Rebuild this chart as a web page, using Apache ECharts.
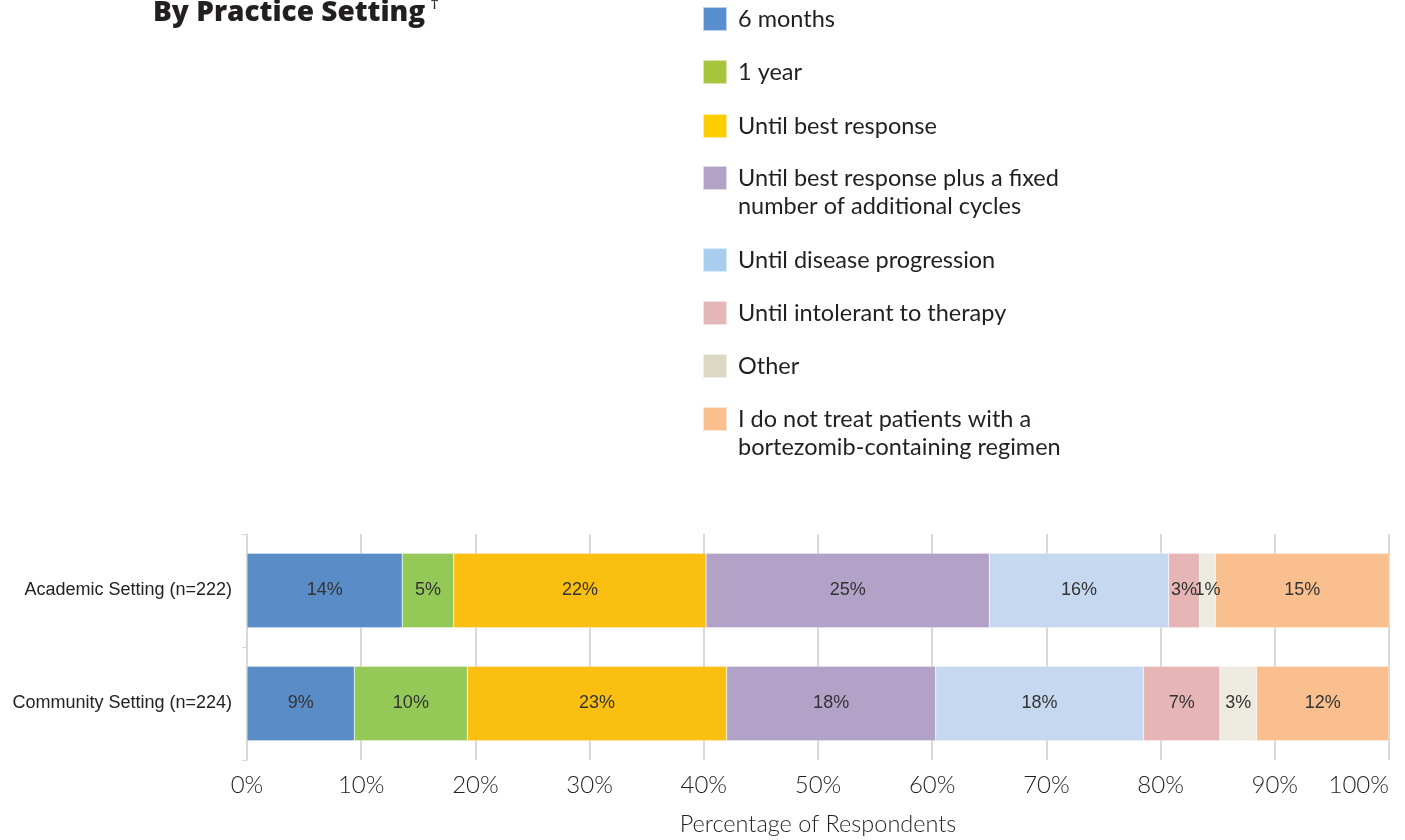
<!DOCTYPE html>
<html>
<head>
<meta charset="utf-8">
<script src="https://cdn.jsdelivr.net/npm/echarts@6/dist/echarts.min.js"></script>
<style>html,body{margin:0;padding:0;background:#fff}#c{width:1405px;height:840px}</style>
</head>
<body>
<div id="c"></div>
<script>
var categories = ['Academic Setting (n=222)', 'Community Setting (n=224)'];
var seriesNames = ['6 months', '1 year', 'Until best response',
  'Until best response plus a fixed\nnumber of additional cycles',
  'Until disease progression', 'Until intolerant to therapy', 'Other',
  'I do not treat patients with a\nbortezomib-containing regimen'];
var sixMonths = [13.6, 9.4];
var oneYear = [4.5, 9.9];
var bestResponse = [22.1, 22.7];
var bestResponsePlus = [24.8, 18.3];
var diseaseProgression = [15.7, 18.2];
var intolerant = [2.7, 6.7];
var other = [1.4, 3.2];
var doNotTreat = [15.3, 11.6];
var xTicks = [0, 10, 20, 30, 40, 50, 60, 70, 80, 90, 100];

var seriesValues = [sixMonths, oneYear, bestResponse, bestResponsePlus, diseaseProgression, intolerant, other, doNotTreat];
var barColors = ['#5a8dc8', '#94c857', '#fbbf12', '#b2a2c7', '#c6d8ef', '#e6b6b7', '#edeae0', '#f9bf8f'];
var legendColors = ['#5a8fcf', '#a6c43c', '#fecd00', '#b2a2c7', '#a9cdef', '#e6b7b8', '#ddd8c3', '#f9bf8f'];
var iconTops = [7, 60, 114, 166, 248, 301, 354, 407];

var legendFont = 'Lato, "Noto Sans", sans-serif';

var legends = seriesNames.map(function (n, i) {
  var multi = n.indexOf('\n') >= 0;
  return {
    left: 702,
    top: iconTops[i] - (multi ? 30 : 2),
    padding: 0,
    orient: 'vertical',
    icon: 'rect',
    itemWidth: 24,
    itemHeight: 24,
    selectedMode: false,
    data: [{ name: n, itemStyle: { color: legendColors[i] } }],
    formatter: function (name) {
      var lines = name.split('\n').map(function (l) { return '{t|' + l + '}'; });
      return (multi ? '\n' : '') + lines.join('\n');
    },
    textStyle: {
      fontFamily: legendFont, fontSize: 23.5, color: '#231f20', lineHeight: 28,
      rich: { t: { fontFamily: legendFont, fontSize: 23.5, color: '#231f20', lineHeight: 28, padding: [0, 0, 0, 6] } }
    }
  };
});

var series = seriesNames.map(function (n, i) {
  return {
    name: n,
    type: 'bar',
    stack: 'total',
    barWidth: '66%',
    data: seriesValues[i],
    itemStyle: { color: barColors[i], borderColor: 'rgba(255,255,255,0.6)', borderWidth: 0.5 },
    label: {
      show: true,
      position: 'inside',
      fontFamily: '"Liberation Sans", Arial, sans-serif',
      fontSize: 18,
      color: '#333',
      formatter: function (p) { return Math.round(p.value) + '%'; }
    }
  };
});

var chart = echarts.init(document.getElementById('c'), null, { renderer: 'canvas' });
chart.setOption({
  animation: false,
  backgroundColor: '#fff',
  title: {
    text: '{a|By Practice Setting} {b|†}',
    left: 153,
    top: -4,
    padding: 0,
    textStyle: {
      rich: {
        a: { fontFamily: '"Open Sans", sans-serif', fontWeight: 800, fontSize: 28, color: '#231f20', lineHeight: 34 },
        b: { fontFamily: '"Open Sans", sans-serif', fontWeight: 400, fontSize: 17, color: '#231f20', verticalAlign: 'top', lineHeight: 34 }
      }
    }
  },
  legend: legends,
  grid: { left: 247, right: 16, top: 534, bottom: 80, containLabel: false, outerBoundsMode: 'none' },
  xAxis: {
    type: 'value',
    min: xTicks[0],
    max: xTicks[xTicks.length - 1],
    interval: xTicks[1] - xTicks[0],
    axisLine: { show: false },
    axisTick: { show: false },
    splitLine: { show: true, lineStyle: { color: '#d9d9d9', width: 2 } },
    axisLabel: {
      formatter: '{value}%',
      alignMaxLabel: 'right',
      fontFamily: 'Lato, sans-serif', fontWeight: 300, fontSize: 24, color: '#231f20', margin: 13
    },
    name: 'Percentage of Respondents',
    nameLocation: 'middle',
    nameGap: 52,
    nameTextStyle: { fontFamily: 'Lato, sans-serif', fontWeight: 300, fontSize: 23.5, color: '#231f20' }
  },
  yAxis: {
    type: 'category',
    inverse: true,
    data: categories,
    axisLine: { show: true, lineStyle: { color: '#d9d9d9', width: 1 } },
    axisTick: { show: true, length: 5, lineStyle: { color: '#d9d9d9' } },
    axisLabel: { fontFamily: '"Liberation Sans", Arial, sans-serif', fontSize: 18, color: '#222', margin: 15 }
  },
  series: series
});
</script>
</body>
</html>
